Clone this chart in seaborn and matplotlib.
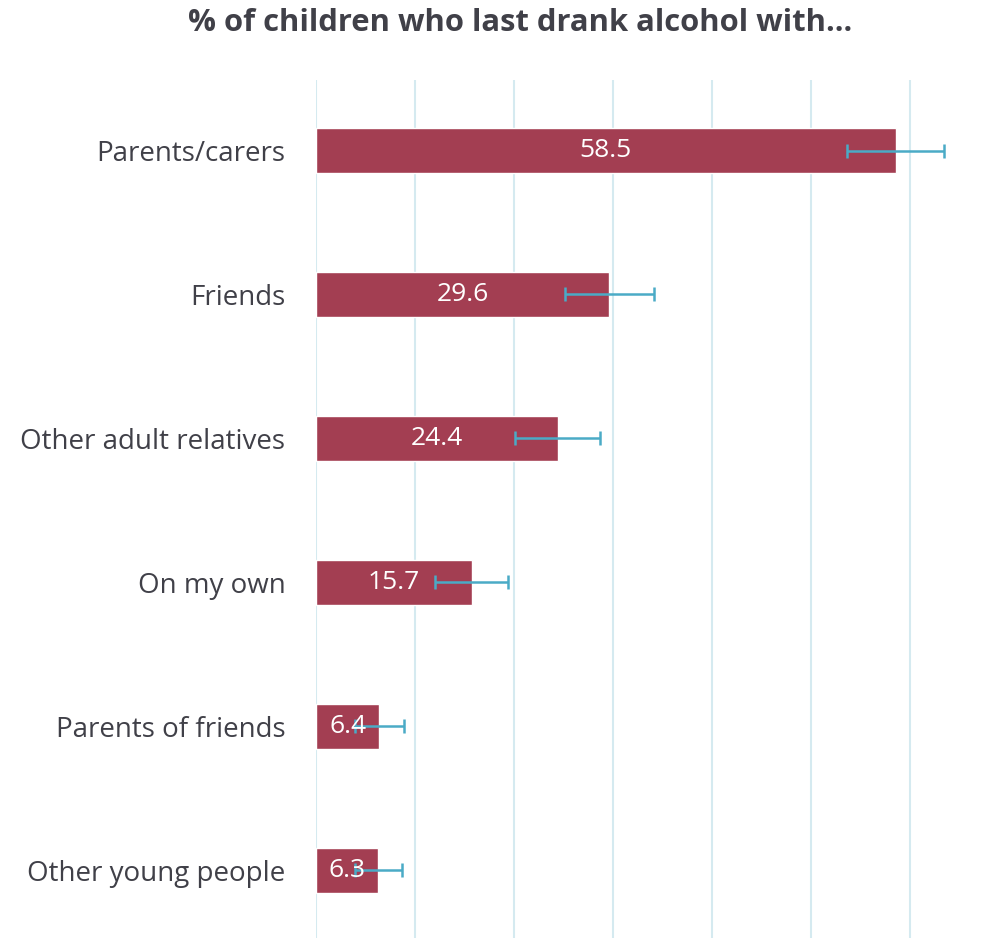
import matplotlib
matplotlib.use("Agg")
import pandas as pd
import matplotlib.pyplot as plt
import seaborn as sns

categories = ["Parents/carers", "Friends", "Other adult relatives",
              "On my own", "Parents of friends", "Other young people"]
values = [58.5, 29.6, 24.4, 15.7, 6.4, 6.3]
errors = [4.9, 4.5, 4.3, 3.7, 2.5, 2.4]

df = pd.DataFrame({"who": categories, "pct": values, "err": errors})

sns.set_style("white")
plt.rcParams["font.family"] = ["Open Sans", "DejaVu Sans"]

fig = plt.figure(figsize=(10, 9.38), dpi=100)
ax = fig.add_axes([0.316, 0.0, 0.644, 858 / 938])

sns.barplot(data=df, x="pct", y="who", color="#a33e52", width=0.31,
            saturation=1, ax=ax, zorder=2)
ax.errorbar(df["pct"], range(len(df)), xerr=df["err"], fmt="none",
            ecolor="#4aabc6", elinewidth=1.8, capsize=5, capthick=1.8, zorder=3)

for i, v in enumerate(values):
    ax.text(v / 2, i, f"{v}", ha="center", va="center", color="white",
            fontsize=19, zorder=4)

ax.set_xlim(0, 65)
ax.set_ylim(5.47, -0.49)
ax.set_xticks(range(0, 70, 10))
ax.xaxis.grid(True, color="#d5eaf0", linewidth=1.5, zorder=0)
ax.set_axisbelow(True)
ax.tick_params(axis="x", length=0, labelbottom=False)
ax.tick_params(axis="y", length=0, labelsize=20, labelcolor="#404048", pad=22)
ax.set_xlabel("")
ax.set_ylabel("")
for s in ax.spines.values():
    s.set_visible(False)

fig.text(0.52, 0.976, "% of children who last drank alcohol with...",
         ha="center", va="center", fontsize=22.3, fontweight="bold", color="#404048")

fig.savefig("out.png", dpi=100)
